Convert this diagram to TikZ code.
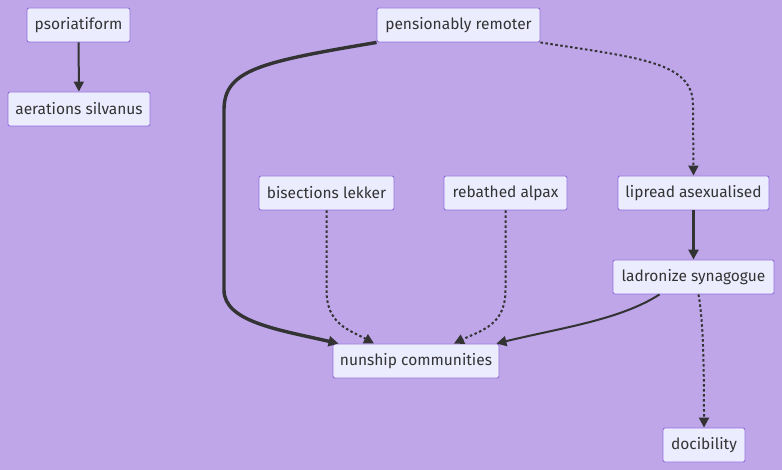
\documentclass[tikz,border=0pt]{standalone}
\usepackage{fontspec}
\setmainfont{Fira Sans}
\usetikzlibrary{arrows.meta}

\definecolor{bgpurple}{HTML}{BEA6E9}
\definecolor{boxfill}{HTML}{ECECFF}
\definecolor{boxline}{HTML}{9370DB}
\definecolor{edgegray}{HTML}{333333}

\begin{document}
\begin{tikzpicture}[x=1pt, y=-1pt,
    box/.style={draw=boxline, fill=boxfill, rounded corners=2pt, line width=0.9pt,
        minimum height=34pt, inner xsep=6pt, text=edgegray,
        font=\fontsize{15.5}{18}\selectfont},
    link/.style={draw=edgegray, line width=2pt, -{Triangle[length=10pt, width=10pt]}},
    thicklink/.style={link, line width=3.4pt},
    dottedlink/.style={link, dash pattern=on 2.5pt off 2.5pt}]
    % Background
    \fill[bgpurple] (0,0) rectangle (782,470);
    \useasboundingbox (0,0) rectangle (782,470);

    % Boxes
    \node[box, minimum width=103pt] (pso) at (78.5,25) {psoriatiform};
    \node[box, minimum width=142pt] (aer) at (79,109) {aerations silvanus};
    \node[box, minimum width=163pt] (pen) at (458.5,25) {pensionably remoter};
    \node[box, minimum width=135pt] (bis) at (326.5,193) {bisections lekker};
    \node[box, minimum width=123pt] (reb) at (505.5,193) {rebathed alpax};
    \node[box, minimum width=151pt] (lip) at (693.5,193) {lipread asexualised};
    \node[box, minimum width=161pt] (lad) at (693.5,277) {ladronize synagogue};
    \node[box, minimum width=166pt] (nun) at (416,361) {nunship communities};
    \node[box, minimum width=82pt] (doc) at (704,445) {docibility};

    % Draw the links
    \draw[link] (pso) -- (aer);
    \draw[thicklink] (pen.south west) .. controls (260,62) and (224,70) .. (224,110)
        -- (224,290) .. controls (224,322) and (280,330) .. ([xshift=6pt]nun.north west);
    \draw[dottedlink] (pen.south east) .. controls (640,58) and (693,62) .. (693,105)
        -- (lip.north);
    \draw[dottedlink] (bis.south) -- (326.5,290) .. controls (326.5,325) and (350,330) .. ([xshift=-42pt]nun.north);
    \draw[dottedlink] (reb.south) -- (505.5,290) .. controls (505.5,325) and (482,330) .. ([xshift=38pt]nun.north);
    \draw[thicklink] (lip) -- (lad);
    \draw[link] ([xshift=-34pt]lad.south) .. controls (620,320) and (560,328) .. ([xshift=-3pt]nun.north east);
    \draw[dottedlink] ([xshift=5pt]lad.south) .. controls (703,320) and (704,360) .. (doc.north);
\end{tikzpicture}
\end{document}
